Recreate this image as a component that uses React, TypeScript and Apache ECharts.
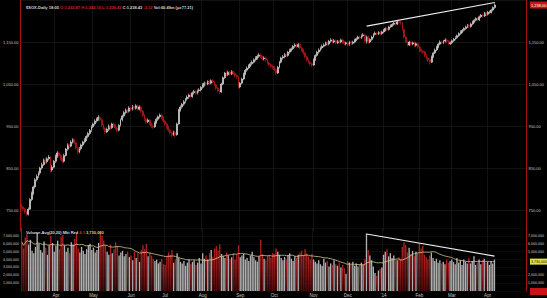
import React, { useEffect, useRef } from "react";
import * as echarts from "echarts";

// ---------- categories (trading days) ----------
const HOLIDAYS = ["2013-03-29","2013-05-27","2013-07-04","2013-09-02","2013-11-28","2013-12-25","2014-01-01","2014-01-20","2014-02-17","2014-04-18"];
const SLOT_COUNT = 296; // 278 traded days + empty right margin
const MONTH_NAMES = ["Jan","Feb","Mar","Apr","May","Jun","Jul","Aug","Sep","Oct","Nov","Dec"];

function buildTradingDays(): string[] {
  const out: string[] = [];
  const d = new Date(Date.UTC(2013, 2, 1));
  while (out.length < SLOT_COUNT) {
    const wd = d.getUTCDay();
    const iso = d.toISOString().slice(0, 10);
    if (wd !== 0 && wd !== 6 && HOLIDAYS.indexOf(iso) < 0) out.push(iso);
    d.setUTCDate(d.getUTCDate() + 1);
  }
  return out;
}
const CATEGORIES = buildTradingDays();

// ---------- price data ----------
const OPEN = [
762,757,752,745,740,752,775,790,805,822,
830,838,850,858,869,865,872,876,845,852,
866,878,886,880,872,866,880,895,905,902,
912,917,910,898,888,896,905,912,917,925,
932,940,948,955,962,966,971,965,952,944,
936,942,950,946,955,952,945,940,952,965,
974,982,988,985,993,990,996,992,998,990,
995,985,975,966,960,964,955,950,948,958,
966,972,976,970,962,955,948,940,934,929,
935,929,955,988,995,1002,1008,1014,1019,1024,
1020,1029,1032,1028,1034,1036,1042,1048,1052,1050,
1056,1052,1058,1055,1048,1040,1034,1031,1050,1065,
1076,1072,1078,1074,1079,1075,1070,1067,1043,1052,
1062,1074,1083,1088,1094,1098,1102,1108,1112,1116,
1119,1115,1110,1112,1107,1100,1096,1092,1090,1084,
1076,1090,1102,1112,1115,1120,1118,1126,1130,1134,
1140,1143,1139,1144,1136,1131,1124,1115,1107,1102,
1098,1095,1108,1118,1126,1131,1136,1140,1143,1148,
1145,1152,1155,1150,1153,1148,1152,1150,1155,1150,
1146,1148,1144,1150,1147,1150,1155,1158,1162,1160,
1165,1167,1152,1162,1150,1156,1162,1168,1171,1169,
1173,1170,1174,1178,1182,1180,1186,1189,1192,1195,
1193,1198,1196,1195,1180,1162,1150,1143,1150,1145,
1148,1142,1146,1138,1130,1128,1126,1118,1112,1108,
1102,1115,1124,1131,1138,1145,1150,1148,1152,1155,
1152,1146,1148,1153,1157,1160,1165,1170,1174,1178,
1182,1186,1190,1187,1193,1198,1202,1206,1203,1210,
1214,1212,1219,1216,1220,1221,1226,1232
];
const CLOSE = [
757,752,745,740,752,775,790,805,822,830,
838,850,858,869,865,872,876,845,852,866,
878,886,880,872,866,880,895,905,902,912,
917,910,898,888,896,905,912,917,925,932,
940,948,955,962,966,971,965,952,944,936,
942,950,946,955,952,945,940,952,965,974,
982,988,985,993,990,996,992,998,990,995,
985,975,966,960,964,955,950,948,958,966,
972,976,970,962,955,948,940,934,929,935,
929,955,988,995,1002,1008,1014,1019,1024,1020,
1029,1032,1028,1034,1036,1042,1048,1052,1050,1056,
1052,1058,1055,1048,1040,1034,1031,1050,1065,1076,
1072,1078,1074,1079,1075,1070,1067,1043,1052,1062,
1074,1083,1088,1094,1098,1102,1108,1112,1116,1119,
1115,1110,1112,1107,1100,1096,1092,1090,1084,1076,
1090,1102,1112,1115,1120,1118,1126,1130,1134,1140,
1143,1139,1144,1136,1131,1124,1115,1107,1102,1098,
1095,1108,1118,1126,1131,1136,1140,1143,1148,1145,
1152,1155,1150,1153,1148,1152,1150,1155,1150,1146,
1148,1144,1150,1147,1150,1155,1158,1162,1160,1165,
1167,1152,1162,1150,1156,1162,1168,1171,1169,1173,
1170,1174,1178,1182,1180,1186,1189,1192,1195,1193,
1198,1196,1195,1180,1162,1150,1143,1150,1145,1148,
1142,1146,1138,1130,1128,1126,1118,1112,1108,1102,
1115,1124,1131,1138,1145,1150,1148,1152,1155,1152,
1146,1148,1153,1157,1160,1165,1170,1174,1178,1182,
1186,1190,1187,1193,1198,1202,1206,1203,1210,1214,
1212,1219,1216,1221,1221,1226,1232,1238
];
const LOW = [
752,748,741,734,737,750,771,786,801,818,
826,833,846,855,860,861,868,840,841,849,
862,874,876,868,861,863,877,891,897,899,
908,906,894,883,885,892,901,908,914,921,
928,936,945,951,958,962,960,948,940,931,
933,938,941,943,948,941,935,937,949,961,
970,978,980,982,986,987,988,989,986,987,
981,971,962,955,957,951,945,943,945,955,
962,968,966,958,951,943,936,930,924,926,
924,927,953,984,991,998,1004,1010,1015,1016,
1017,1025,1024,1025,1030,1032,1039,1044,1046,1047,
1048,1049,1051,1044,1036,1030,1026,1029,1047,1062,
1068,1069,1070,1071,1071,1066,1062,1039,1040,1049,
1059,1071,1079,1085,1090,1094,1099,1104,1108,1112,
1111,1106,1106,1103,1096,1092,1088,1085,1080,1071,
1074,1087,1099,1108,1111,1114,1115,1122,1127,1131,
1136,1135,1136,1132,1127,1120,1111,1103,1098,1094,
1090,1093,1105,1115,1122,1128,1132,1137,1140,1141,
1142,1148,1146,1147,1144,1145,1146,1147,1146,1142,
1142,1140,1141,1143,1144,1147,1152,1155,1156,1157,
1161,1148,1146,1146,1147,1153,1159,1165,1165,1166,
1166,1167,1171,1175,1176,1177,1183,1186,1189,1189,
1190,1192,1191,1176,1158,1146,1139,1140,1141,1142,
1138,1139,1134,1126,1124,1121,1114,1107,1103,1096,
1100,1112,1121,1128,1135,1142,1144,1145,1149,1148,
1142,1143,1145,1150,1154,1157,1162,1167,1171,1175,
1179,1183,1183,1184,1190,1195,1199,1199,1200,1207,
1208,1209,1212,1213,1217,1218,1223,1229
];
const HIGH = [
766,760,755,748,756,778,794,808,826,835,
842,853,863,873,874,876,881,878,857,869,
882,890,889,884,875,884,898,909,908,916,
921,920,913,901,900,908,915,921,928,936,
943,952,958,966,970,976,974,968,955,947,
946,954,953,958,959,955,948,955,968,977,
986,992,991,997,996,1000,999,1002,1001,999,
998,988,978,969,968,967,958,954,961,970,
975,980,979,973,965,958,951,943,937,939,
938,958,991,999,1005,1012,1017,1023,1027,1028,
1032,1036,1035,1037,1040,1045,1052,1056,1055,1059,
1060,1061,1062,1058,1051,1043,1038,1053,1068,1079,
1080,1082,1081,1083,1082,1078,1073,1069,1055,1065,
1077,1086,1092,1097,1102,1106,1111,1116,1120,1124,
1123,1118,1116,1115,1110,1103,1099,1096,1093,1087,
1093,1105,1115,1119,1124,1123,1129,1134,1137,1143,
1147,1146,1148,1147,1139,1134,1127,1118,1110,1105,
1101,1111,1121,1129,1135,1139,1144,1147,1151,1152,
1155,1159,1158,1157,1156,1155,1155,1158,1158,1153,
1151,1151,1153,1153,1153,1158,1161,1165,1165,1168,
1171,1170,1165,1165,1159,1165,1171,1175,1174,1176,
1176,1177,1181,1185,1185,1189,1192,1195,1198,1198,
1202,1201,1200,1197,1182,1165,1153,1153,1153,1151,
1151,1149,1149,1141,1134,1131,1129,1121,1115,1111,
1118,1127,1135,1141,1148,1154,1153,1155,1159,1158,
1155,1151,1156,1160,1164,1168,1173,1178,1181,1185,
1189,1193,1193,1196,1201,1205,1209,1209,1213,1217,
1217,1222,1222,1224,1225,1229,1235,1242
];

// ---------- volume (millions of shares) ----------
const VOLUME_M = [
6.2,5.4,6.8,7.2,5.9,6.5,5.1,4.8,5.6,7.4,6.0,5.2,4.9,6.3,5.5,4.6,5.8,7.0,6.1,5.0,
5.7,6.4,5.3,6.9,7.1,5.8,5.0,5.5,4.8,6.2,5.9,6.6,7.3,5.4,4.9,5.6,5.1,4.7,5.3,5.8,6.0,5.2,
5.5,4.9,5.2,6.1,7.6,7.0,6.4,5.8,5.0,4.6,5.9,4.8,5.3,6.2,5.7,4.5,4.9,5.1,4.4,4.7,5.0,4.3,
4.5,3.9,5.0,4.2,4.8,3.7,5.2,5.8,5.3,6.0,4.4,4.9,4.5,4.1,3.8,4.0,3.5,3.7,4.1,3.4,
3.3,4.4,4.9,4.6,5.2,3.6,4.0,4.8,4.2,3.7,3.5,3.8,3.2,3.6,4.0,3.4,3.7,3.9,3.3,3.6,4.2,3.5,
4.8,4.1,4.5,4.0,4.8,5.2,4.3,5.4,5.7,5.1,5.9,4.7,4.4,4.2,4.9,4.5,4.1,4.3,4.8,4.0,4.6,5.8,
4.3,4.5,4.7,4.0,4.2,3.8,4.5,5.0,4.3,3.9,3.7,4.4,6.5,4.7,4.1,3.9,4.4,4.6,4.2,4.8,
4.7,5.4,5.0,4.6,4.2,3.9,4.3,4.0,4.5,4.8,4.1,3.8,4.4,4.2,4.6,4.9,5.1,4.5,5.3,4.8,4.4,4.0,4.7,
4.0,3.7,3.5,3.9,3.4,3.2,4.1,3.6,3.8,3.1,3.5,3.3,3.9,3.4,3.2,3.6,3.0,3.3,2.9,2.2,
3.8,3.6,3.3,3.7,3.2,3.5,3.1,3.4,3.6,3.3,4.0,7.3,5.2,4.5,3.9,3.1,2.3,1.9,2.6,2.8,3.0,
4.6,5.0,5.3,4.4,4.8,4.2,4.5,4.0,3.9,4.3,4.1,5.6,6.2,5.8,4.9,5.5,4.7,5.1,4.4,5.0,4.8,
6.0,5.4,5.7,4.6,4.3,4.0,4.5,4.9,4.2,3.8,4.1,3.6,3.9,3.5,3.7,3.4,4.0,3.6,3.8,
4.0,3.7,3.4,4.2,3.6,3.9,3.3,4.0,3.7,3.5,4.2,3.5,3.8,4.4,3.3,3.6,4.0,3.4,3.9,4.1,3.6,
3.7,3.3,3.8,3.5,4.0
];
const MA_PERIOD = 20;

// trend lines drawn on the chart: [day index, value]
const PRICE_TREND = [[202, 1188], [277, 1244]];
const VOLUME_TREND = [[202, 7.24], [277, 4.44]];

const FONT = "Liberation Sans";
const LABEL_COLOR = "#c4c4c4";
const AXIS_RED = "#a81212";
const UP_COLOR = "#e2e2e2";
const DOWN_COLOR = "#c41c1c";

function isMonthStart(i: number): boolean {
  if (i <= 0 || i >= CLOSE.length) return false;
  return CATEGORIES[i].slice(0, 7) !== CATEGORIES[i - 1].slice(0, 7);
}
function monthLabel(v: string): string {
  const m = Number(v.slice(5, 7)) - 1;
  return m === 0 ? "'" + v.slice(2, 4) : MONTH_NAMES[m];
}
const fmtPrice = (v: number) => v.toLocaleString("en-US", { minimumFractionDigits: 2, maximumFractionDigits: 2 });

export default function App() {
  const ref = useRef<HTMLDivElement>(null);
  useEffect(() => {
    const chart = echarts.init(ref.current!, null, { renderer: "svg" });

    const candles = CLOSE.map((c, i) => [OPEN[i], c, LOW[i], HIGH[i]]);
    const redGrad = new echarts.graphic.LinearGradient(0, 0, 0, 1, [
      { offset: 0, color: "#b82222" },
      { offset: 1, color: "#4a0a0a" },
    ]);
    const volData = VOLUME_M.map((v, i) => ({
      value: v,
      itemStyle: { color: CLOSE[i] >= OPEN[i] ? "#b0b0b0" : redGrad },
    }));
    const ma = VOLUME_M.map((_, i) => {
      const s = Math.max(0, i - MA_PERIOD + 1);
      let sum = 0;
      for (let k = s; k <= i; k++) sum += VOLUME_M[k];
      return +(sum / (i - s + 1)).toFixed(3);
    });
    const lastMa = ma[ma.length - 1];
    const lastClose = CLOSE[CLOSE.length - 1];
    const maText = Math.round(lastMa * 1000000).toLocaleString("en-US");

    const priceLabel = (v: number) => (v % 100 === 50 && v < 1250 ? fmtPrice(v) : "");
    const volLabel = (v: number) => (v > 0 && v < 8 ? (v * 1000000).toLocaleString("en-US") : "");
    // right-hand volume labels: the one under the moving-average flag is covered by it
    const volLabelRight = (v: number) => (Math.abs(v - lastMa) < 0.75 ? "" : volLabel(v));

    const priceAxisBase = {
      type: "value", gridIndex: 0, min: 700, max: 1250, interval: 50,
      axisLine: { show: true, lineStyle: { color: AXIS_RED, width: 1 } },
      axisTick: { show: false },
      axisLabel: { formatter: priceLabel, color: LABEL_COLOR, fontSize: 4, fontFamily: FONT, margin: 2 },
    };
    const volAxisBase = {
      type: "value", gridIndex: 1, min: 0, max: 8, interval: 1,
      axisLine: { show: true, lineStyle: { color: AXIS_RED, width: 1 } },
      axisTick: { show: false },
    };
    const catBase = {
      type: "category", data: CATEGORIES, boundaryGap: true,
      axisLine: { show: false }, axisTick: { show: false },
      splitLine: { show: true, interval: (i: number) => isMonthStart(i), lineStyle: { color: "#1e1e1e", width: 0.6 } },
    };

    const option: any = {
      animation: false,
      backgroundColor: "#000",
      textStyle: { fontFamily: FONT },
      title: [
        {
          left: 21, top: 0,
          text: "{w|$SOX-Daily 18:05} {r|O:1,232.87 H:1,242.10 L:1,229.41} {w|C:1,238.43} {r|-3.12} {w|Vol:60.49m (μ=77.21)}",
          textStyle: {
            fontSize: 4, fontFamily: FONT,
            rich: { w: { color: "#d6d6d6", fontSize: 4, fontFamily: FONT }, r: { color: "#d42626", fontSize: 4, fontFamily: FONT } },
          },
        },
        {
          left: 21, top: 225,
          text: "{w|Volume-Avg(20,20) Mkt Red} {r|4.1} {y|" + maText + "}",
          textStyle: {
            fontSize: 4, fontFamily: FONT,
            rich: {
              w: { color: "#d6d6d6", fontSize: 4, fontFamily: FONT },
              r: { color: "#d42626", fontSize: 4, fontFamily: FONT },
              y: { color: "#d8d860", fontSize: 4, fontFamily: FONT },
            },
          },
        },
      ],
      grid: [
        { left: 20, right: 18, top: 0, height: 231 },
        { left: 20, right: 18, top: 228, height: 63 },
      ],
      xAxis: [
        { ...catBase, gridIndex: 0, axisLabel: { show: false } },
        {
          ...catBase, gridIndex: 1,
          axisLabel: {
            show: true, interval: (i: number) => isMonthStart(i), formatter: monthLabel,
            color: LABEL_COLOR, fontSize: 4.5, fontFamily: FONT, margin: 2,
          },
        },
      ],
      yAxis: [
        { ...priceAxisBase, position: "left", splitLine: { show: true, lineStyle: { color: ["rgba(0,0,0,0)", "#1e1e1e"], width: 0.6 } } },
        { ...priceAxisBase, position: "right", splitLine: { show: false } },
        {
          ...volAxisBase, position: "left",
          axisLabel: { formatter: volLabel, color: LABEL_COLOR, fontSize: 3.6, fontFamily: FONT, margin: 2 },
          splitLine: { show: true, lineStyle: { color: "#141414", width: 0.5 } },
        },
        {
          ...volAxisBase, position: "right",
          axisLabel: { formatter: volLabelRight, color: LABEL_COLOR, fontSize: 3.6, fontFamily: FONT, margin: 2 },
          splitLine: { show: false },
        },
      ],
      series: [
        {
          type: "candlestick", xAxisIndex: 0, yAxisIndex: 0, data: candles, barWidth: 1.4,
          itemStyle: { color: UP_COLOR, color0: DOWN_COLOR, borderColor: UP_COLOR, borderColor0: DOWN_COLOR, borderWidth: 0.6 },
          markLine: {
            silent: true, symbol: ["none", "none"], label: { show: false },
            lineStyle: { color: "#eeeeee", width: 1.2, type: "solid" },
            data: [[
              { coord: [CATEGORIES[PRICE_TREND[0][0]], PRICE_TREND[0][1]] },
              { coord: [CATEGORIES[PRICE_TREND[1][0]], PRICE_TREND[1][1]] },
            ]],
          },
        },
        {
          type: "bar", xAxisIndex: 1, yAxisIndex: 2, data: volData, barWidth: 1.35,
          markLine: {
            silent: true, symbol: ["none", "none"], label: { show: false },
            lineStyle: { color: "#eeeeee", width: 1.2, type: "solid" },
            data: [[
              { coord: [CATEGORIES[VOLUME_TREND[0][0]], VOLUME_TREND[0][1]] },
              { coord: [CATEGORIES[VOLUME_TREND[1][0]], VOLUME_TREND[1][1]] },
            ]],
          },
        },
        {
          type: "line", xAxisIndex: 1, yAxisIndex: 2, data: ma, symbol: "none", silent: true,
          lineStyle: { color: "#d4c98a", width: 0.8 },
        },
      ],
    };
    chart.setOption(option);

    const yClose = chart.convertToPixel({ yAxisIndex: 1 }, lastClose) as number;
    const yMa = chart.convertToPixel({ yAxisIndex: 3 }, lastMa) as number;
    const yBox = Math.max(yClose, 5);
    chart.setOption({
      graphic: [
        { type: "rect", shape: { x: 530, y: yBox - 3.5, width: 17, height: 7 }, style: { fill: "#c81414" } },
        { type: "text", x: 531, y: yBox, style: { text: fmtPrice(lastClose), fill: "#ffffff", fontSize: 4, fontFamily: FONT, verticalAlign: "middle" } },
        { type: "rect", shape: { x: 530, y: yMa - 3, width: 17, height: 6 }, style: { fill: "#e4e43a" } },
        { type: "text", x: 531, y: yMa, style: { text: maText, fill: "#111111", fontSize: 3.6, fontFamily: FONT, verticalAlign: "middle" } },
        { type: "rect", shape: { x: 530, y: 288, width: 17, height: 7 }, style: { fill: "#c81414" } },
      ],
    });
    return () => chart.dispose();
  }, []);
  return <div ref={ref} style={{ position: "fixed", left: 0, top: 0, width: 547, height: 298, background: "#000" }} />;
}
